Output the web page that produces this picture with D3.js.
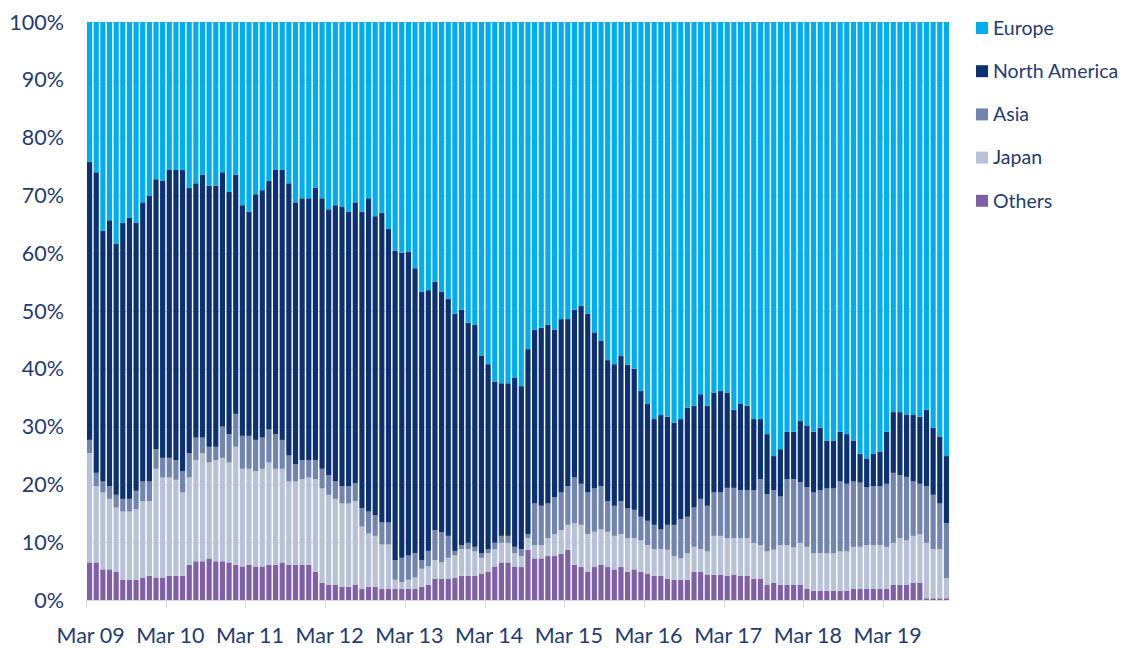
<!DOCTYPE html>
<html>
<head>
<meta charset="utf-8">
<script src="https://cdn.jsdelivr.net/npm/d3@7"></script>
<style>
  html, body { margin: 0; padding: 0; background: #fff; }
  svg { display: block; }
  text { font-family: Lato, "Open Sans", sans-serif; fill: #1f3c74; }
</style>
</head>
<body>
<svg id="chart" width="1141" height="648"></svg>
<script>
// monthly share (%) by region, Mar 2009 .. Dec 2019
const others = [6.5,6.5,5.3,5.3,4.9,3.5,3.5,3.5,3.9,4.2,3.9,3.9,4.2,4.2,4.2,6.1,6.7,6.7,7.2,6.7,6.7,6.5,6.1,5.8,6.1,5.8,5.8,6.1,6.1,6.5,
  6.1,6.1,6.1,6.1,4.9,3.0,2.6,2.6,2.3,2.3,2.6,1.9,2.3,2.3,1.9,1.9,1.9,1.9,1.9,1.9,2.3,2.6,3.7,3.7,3.7,3.8,4.2,4.2,4.2,4.5,
  4.9,5.8,6.5,6.5,5.8,5.7,8.7,7.2,7.2,7.6,7.6,8.0,8.7,6.1,5.7,4.9,5.7,6.1,5.7,5.3,5.7,4.9,5.3,4.9,4.5,4.2,4.2,3.7,3.5,3.5,
  3.5,4.9,4.9,4.4,4.4,4.4,4.2,4.4,4.2,4.2,3.7,3.7,2.6,3.0,2.6,2.6,2.6,2.6,1.9,1.6,1.6,1.6,1.6,1.6,1.6,1.9,1.9,1.9,1.9,1.9,
  1.9,2.6,2.6,2.6,3.0,3.0,0.3,0.3,0.3,0.3];
const japan = [18.9,13.2,13.3,12.2,11.1,11.8,11.8,12.2,13.2,12.9,18.8,17.3,17.0,16.6,14.4,15.1,17.5,18.7,16.6,17.5,17.9,17.3,20.4,16.9,16.6,16.5,16.9,17.7,16.6,16.2,
  14.4,14.4,14.8,15.1,16.0,16.3,15.6,14.9,14.4,14.4,14.5,10.8,9.2,8.8,7.7,7.7,1.6,1.2,1.6,2.0,3.1,3.2,3.2,2.8,3.6,3.9,4.6,4.6,4.2,2.8,
  3.2,3.0,3.4,3.4,2.3,1.9,2.0,2.3,2.3,3.1,3.8,4.1,4.3,7.2,7.3,6.5,6.1,6.1,6.1,5.8,5.7,5.8,5.4,5.4,5.0,4.6,4.6,5.0,4.1,3.7,
  4.6,4.3,3.9,4.0,6.7,6.7,6.5,6.3,6.5,6.5,6.2,5.8,5.8,5.7,6.9,6.9,6.5,7.3,7.3,6.5,6.5,6.5,6.5,6.8,6.8,7.3,7.3,7.6,7.6,7.6,
  7.3,7.3,8.1,7.7,8.1,8.4,9.6,8.5,8.5,3.5];
const asia = [2.3,2.3,1.9,2.2,2.2,2.2,2.2,3.2,3.4,3.4,3.4,3.4,3.4,3.4,3.7,4.2,3.9,2.7,2.7,2.3,5.4,4.9,5.7,5.7,5.7,5.4,5.4,5.7,6.0,5.0,
  4.5,3.0,3.3,3.0,3.3,3.4,3.4,3.0,3.0,3.0,3.1,3.2,3.8,3.6,3.8,3.8,3.4,4.2,4.2,4.2,1.5,2.7,5.2,5.2,3.8,0.8,0.7,1.1,0.8,0.8,
  0.7,1.1,1.2,1.2,1.1,1.2,0.7,7.2,6.8,6.0,6.4,6.5,6.7,7.9,7.1,7.2,7.5,7.5,5.3,5.2,5.7,5.2,4.9,4.1,4.2,4.2,3.4,4.3,5.4,6.8,
  6.3,6.8,8.7,7.9,7.5,7.5,8.7,8.7,8.3,8.3,9.1,11.4,9.9,10.3,8.4,11.4,11.8,10.5,10.3,10.5,10.9,11.2,11.2,12.1,11.7,11.3,11.1,10.0,10.2,10.2,
  10.9,12.1,10.9,11.0,9.4,8.7,9.8,9.4,7.9,9.5];
const northAmerica = [48.1,52.0,43.4,46.0,43.4,47.8,48.6,46.4,48.3,49.4,46.7,47.9,49.8,50.2,52.1,45.9,44.0,45.5,45.2,45.2,44.0,41.9,41.4,39.9,38.8,42.5,42.8,43.0,45.7,46.7,
  47.1,45.3,45.3,45.3,47.1,46.8,46.0,47.8,48.3,47.5,48.6,51.3,54.2,51.7,53.6,50.8,53.5,52.8,52.6,49.3,46.4,45.1,43.0,41.6,41.0,41.0,40.7,38.1,38.4,34.2,
  32.0,27.9,26.4,26.4,29.3,28.2,32.0,30.1,30.8,30.9,29.0,30.0,28.9,29.0,30.8,30.9,27.0,25.2,24.4,24.5,25.1,24.8,24.4,21.8,20.2,18.3,19.8,18.7,17.7,17.3,
  18.9,17.6,18.1,17.3,17.3,17.6,16.5,13.5,15.0,14.6,12.3,10.4,10.4,5.9,8.2,8.2,8.2,10.6,10.7,10.5,10.8,8.3,8.3,8.6,8.6,7.1,5.0,5.0,5.6,6.0,
  9.0,10.5,10.9,10.8,11.5,11.6,13.2,11.6,11.6,11.6];
const europe = [24.2,26.0,36.1,34.3,38.4,34.7,33.9,34.7,31.2,30.1,27.2,27.5,25.6,25.6,25.6,28.7,27.9,26.4,28.3,28.3,26.0,29.4,26.4,31.7,32.8,29.8,29.1,27.5,25.6,25.6,
  27.9,31.2,30.5,30.5,28.7,30.5,32.4,31.7,32.0,32.8,31.2,32.8,30.5,33.6,33.0,35.8,39.6,39.9,39.7,42.6,46.7,46.4,44.9,46.7,47.9,50.5,49.8,52.0,52.4,57.7,
  59.2,62.2,62.5,62.5,61.5,63.0,56.6,53.2,52.9,52.4,53.2,51.4,51.4,49.8,49.1,50.5,53.7,55.1,58.5,59.2,57.8,59.3,60.0,63.8,66.1,68.7,68.0,68.3,69.3,68.7,
  66.7,66.4,64.4,66.4,64.1,63.8,64.1,67.1,66.0,66.4,68.7,68.7,71.3,75.1,73.9,70.9,70.9,69.0,69.8,70.9,70.2,72.4,72.4,70.9,71.3,72.4,74.7,75.5,74.7,74.3,
  70.9,67.5,67.5,67.9,68.0,68.3,67.1,70.2,71.7,75.1];

const seriesNames = ["Others", "Japan", "Asia", "North America", "Europe"];
const seriesValues = [others, japan, asia, northAmerica, europe];
const seriesColors = ["#7f5fa6", "#b7c2d7", "#7285ae", "#0b3172", "#00aeef"];
const legendOrder = ["Europe", "North America", "Asia", "Japan", "Others"];
const yTicks = [0, 10, 20, 30, 40, 50, 60, 70, 80, 90, 100];
const xTickLabels = ["Mar 09", "Mar 10", "Mar 11", "Mar 12", "Mar 13", "Mar 14", "Mar 15", "Mar 16", "Mar 17", "Mar 18", "Mar 19"];

const months = d3.timeMonth.range(new Date(2009, 2, 1), new Date(2020, 0, 1));
const rows = months.map((m, i) => {
  const r = {i: i};
  seriesNames.forEach((s, k) => { r[s] = seriesValues[k][i]; });
  return r;
});

const svg = d3.select("#chart");
const plot = {left: 87, right: 949, top: 22, bottom: 600};

const x = d3.scaleBand().domain(d3.range(months.length)).range([plot.left, plot.right]).paddingInner(0.22).paddingOuter(0).align(0);
const y = d3.scaleLinear().domain([0, 100]).range([plot.bottom, plot.top]);
const color = d3.scaleOrdinal().domain(seriesNames).range(seriesColors);

// gridlines
svg.append("g")
  .selectAll("line")
  .data(yTicks.slice(1))
  .join("line")
  .attr("x1", plot.left).attr("x2", plot.right)
  .attr("y1", d => y(d) + 0.5).attr("y2", d => y(d) + 0.5)
  .attr("stroke", "#d9d9d9").attr("stroke-width", 1);

// bars
const stacked = d3.stack().keys(seriesNames).offset(d3.stackOffsetExpand)(rows);
svg.append("g")
  .selectAll("g")
  .data(stacked)
  .join("g")
  .attr("fill", d => color(d.key))
  .selectAll("rect")
  .data(d => d)
  .join("rect")
  .attr("x", d => x(d.data.i))
  .attr("width", x.bandwidth())
  .attr("y", d => y(d[1] * 100))
  .attr("height", d => y(d[0] * 100) - y(d[1] * 100));

// x axis
const marchIdx = months.map((m, i) => i).filter(i => months[i].getMonth() === 2);
const xAxis = svg.append("g");
xAxis.append("line")
  .attr("x1", plot.left).attr("x2", plot.right)
  .attr("y1", plot.bottom + 0.5).attr("y2", plot.bottom + 0.5)
  .attr("stroke", "#d9d9d9");
xAxis.selectAll(".tick")
  .data(marchIdx)
  .join("line")
  .attr("class", "tick")
  .attr("x1", i => Math.round(x(i)) - 0.5).attr("x2", i => Math.round(x(i)) - 0.5)
  .attr("y1", plot.bottom).attr("y2", plot.bottom + 8)
  .attr("stroke", "#d9d9d9");
xAxis.selectAll("text")
  .data(marchIdx)
  .join("text")
  .attr("x", i => x(i) + x.bandwidth() / 2 + 1)
  .attr("y", 643)
  .attr("text-anchor", "middle")
  .attr("font-size", 21.5)
  .text((i, k) => xTickLabels[k]);

// y axis labels
svg.append("g")
  .selectAll("text")
  .data(yTicks)
  .join("text")
  .attr("x", 64)
  .attr("y", d => y(d))
  .attr("dy", "0.35em")
  .attr("text-anchor", "end")
  .attr("font-size", 21.5)
  .text(d => d + "%");

// legend
const legend = svg.append("g")
  .selectAll("g")
  .data(legendOrder)
  .join("g")
  .attr("transform", (d, i) => `translate(976, ${22 + i * 43.2})`);
legend.append("rect")
  .attr("width", 12).attr("height", 12)
  .attr("fill", d => color(d));
legend.append("text")
  .attr("x", 17).attr("y", 6)
  .attr("dy", "0.35em")
  .attr("font-size", 19.5)
  .text(d => d);
</script>
</body>
</html>
